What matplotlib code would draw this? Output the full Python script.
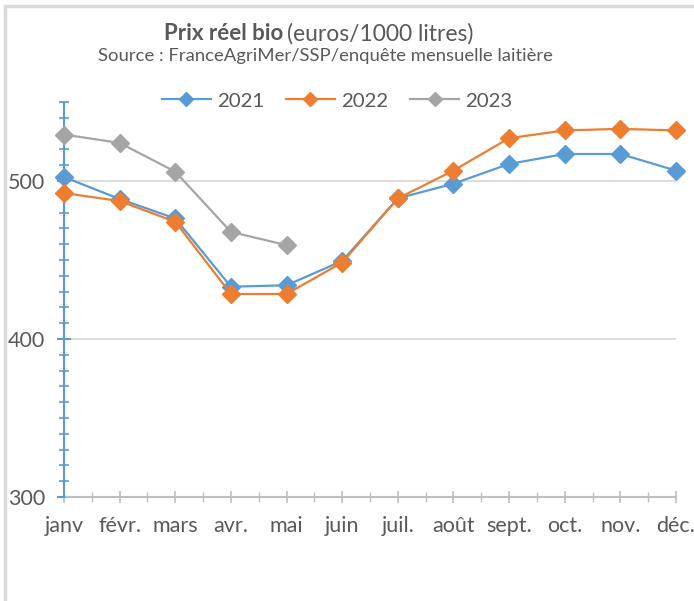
import matplotlib.pyplot as plt
from matplotlib.patches import Rectangle
from matplotlib.ticker import MultipleLocator

mois = ['janv', 'févr.', 'mars', 'avr.', 'mai', 'juin', 'juil.', 'août',
        'sept.', 'oct.', 'nov.', 'déc.']
prix_2021 = [502.5, 488.6, 476.3, 433.1, 434.0, 449.4, 489.0, 498.3, 510.8, 517.1, 517.1, 506.6]
prix_2022 = [492.4, 487.3, 474.2, 428.5, 428.5, 448.4, 489.0, 506.6, 527.1, 532.0, 533.0, 532.0]
prix_2023 = [529.4, 524.1, 505.9, 467.8, 459.4]

plt.rcParams['font.family'] = ['Lato', 'DejaVu Sans']
gris_txt = '#595959'

fig = plt.figure(figsize=(6.94, 6.01), dpi=100)
W, H = 694, 601
ax = fig.add_axes([64 / W, 1 - 497 / H, (676 - 64) / W, (497 - 102) / H])

x = list(range(len(mois)))
for serie, coul, lab in [(prix_2021, '#5B9BD5', '2021'),
                         (prix_2022, '#ED7D31', '2022'),
                         (prix_2023, '#A5A5A5', '2023')]:
    ax.plot(x[:len(serie)], serie, color=coul, lw=1.6, marker='D', ms=9.5,
            label=lab, clip_on=False, zorder=4)

ax.set_xlim(0, 11)
ax.set_ylim(300, 550)
ax.set_yticks([300, 400, 500])
ax.yaxis.set_minor_locator(MultipleLocator(10))
ax.set_xticks(x)
ax.set_xticklabels(mois)
ax.xaxis.set_minor_locator(MultipleLocator(0.5))

for yv in [400, 500]:
    ax.axhline(yv, color='#D9D9D9', lw=1.3, zorder=0)

for s in ['top', 'right']:
    ax.spines[s].set_visible(False)
ax.spines['left'].set_color('#5B9BD5')
ax.spines['left'].set_linewidth(1.5)
ax.spines['bottom'].set_color('#BFBFBF')
ax.spines['bottom'].set_linewidth(1.5)
ax.spines['left'].set_zorder(3)

ax.tick_params(axis='y', which='major', direction='inout', length=9.5, width=1.5,
               color='#5B9BD5', labelsize=15.5, labelcolor=gris_txt, pad=9)
ax.tick_params(axis='y', which='minor', direction='inout', length=7.5, width=1.2,
               color='#5B9BD5')
ax.tick_params(axis='x', which='major', direction='inout', length=9, width=1.2,
               color='#BFBFBF', labelsize=15.5, labelcolor=gris_txt, pad=9)
ax.tick_params(axis='x', which='minor', direction='inout', length=6.5, width=1.0,
               color='#BFBFBF')

# titre
fig.text(283 / W, 1 - 34 / H, 'Prix réel bio', ha='right', va='center',
         fontsize=16, fontweight='bold', color=gris_txt)
fig.text(287 / W, 1 - 34 / H, '(euros/1000 litres)', ha='left', va='center',
         fontsize=16.5, color=gris_txt)
fig.text(325 / W, 1 - 56 / H, 'Source : FranceAgriMer/SSP/enquête mensuelle laitière',
         ha='center', va='center', fontsize=13.3, color=gris_txt)

leg = fig.legend(loc='center', bbox_to_anchor=(337 / W, 1 - 101 / H), ncol=3,
                 frameon=False, fontsize=14.7, handlelength=2.4, columnspacing=1.08,
                 handletextpad=0.3, markerscale=0.7)
for t in leg.get_texts():
    t.set_color(gris_txt)

# cadre
fig.patches.append(Rectangle((5 / W, -0.1), 1.1, 1.1 - 6 / H,
                             transform=fig.transFigure, fill=False,
                             edgecolor='#D9D9D9', lw=2.5))

fig.savefig('out.png', dpi=100)
